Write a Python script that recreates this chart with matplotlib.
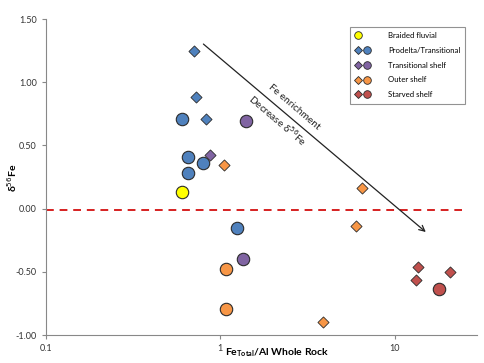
import matplotlib

matplotlib.use("Agg")
import matplotlib.pyplot as plt
from matplotlib.lines import Line2D
from matplotlib.legend_handler import HandlerTuple

plt.rcParams["font.family"] = ["Lato", "DejaVu Sans"]

# values (x: Fe_total/Al, y: d56Fe)
braided_circ_x = [0.605]
braided_circ_y = [0.13]

prodelta_diam_x = [0.71, 0.724, 0.83]
prodelta_diam_y = [1.247, 0.88, 0.71]
prodelta_circ_x = [0.607, 0.655, 0.80, 0.657, 1.25]
prodelta_circ_y = [0.709, 0.41, 0.36, 0.284, -0.151]

trans_diam_x = [0.873]
trans_diam_y = [0.424]
trans_circ_x = [1.405, 1.356]
trans_circ_y = [0.693, -0.40]

outer_diam_x = [1.05, 6.46, 6.02, 3.9]
outer_diam_y = [0.342, 0.163, -0.135, -0.895]
outer_circ_x = [1.08, 1.08]
outer_circ_y = [-0.48, -0.797]

starved_diam_x = [13.7, 13.2, 20.8]
starved_diam_y = [-0.465, -0.567, -0.504]
starved_circ_x = [18.0]
starved_circ_y = [-0.638]

arrow_start = (0.80, 1.302)
arrow_end = (15.1, -0.185)

y_ticks = [-1.0, -0.5, 0.0, 0.5, 1.0, 1.5]
x_ticks = [0.1, 1, 10]
x_tick_labels = ["0.1", "1", "10"]

YELLOW = "#FFFF00"
BLUE = "#4F81BD"
PURPLE = "#8064A2"
ORANGE = "#F79646"
RED = "#C0504D"
EDGE = "#2B2B2B"

fig = plt.figure(figsize=(4.84, 3.63), dpi=100)
ax = fig.add_axes([0.095, 0.0771, 0.890, 0.8705])
ax.set_xscale("log")
ax.set_xlim(0.1, 29.6)
ax.set_ylim(-1.0, 1.5)

ax.plot([0.1, 24.3], [-0.01, -0.01], color="#D62020", linestyle=(0, (4, 3)), linewidth=1.4, zorder=1)

circ = dict(marker="o", s=80, edgecolors=EDGE, linewidths=0.8, zorder=3)
diam = dict(marker="D", s=32, edgecolors=EDGE, linewidths=0.6, zorder=3)

ax.scatter(braided_circ_x, braided_circ_y, c=YELLOW, **circ)
ax.scatter(prodelta_diam_x, prodelta_diam_y, c=BLUE, **diam)
ax.scatter(prodelta_circ_x, prodelta_circ_y, c=BLUE, **circ)
ax.scatter(trans_diam_x, trans_diam_y, c=PURPLE, **diam)
ax.scatter(trans_circ_x, trans_circ_y, c=PURPLE, **circ)
ax.scatter(outer_diam_x, outer_diam_y, c=ORANGE, **diam)
ax.scatter(outer_circ_x, outer_circ_y, c=ORANGE, **circ)
ax.scatter(starved_diam_x, starved_diam_y, c=RED, **diam)
ax.scatter(starved_circ_x, starved_circ_y, c=RED, **circ)

ax.annotate("", xy=arrow_end, xytext=arrow_start,
            arrowprops=dict(arrowstyle="->", color="#222222", lw=0.9, shrinkA=0, shrinkB=0))
ax.text(2.66, 0.80, "Fe enrichment", rotation=-40.5, ha="center", va="center", fontsize=7.3, color="#222222")
ax.text(2.13, 0.70, "Decrease δ$^{56}$Fe", rotation=-40.5, ha="center", va="center", fontsize=7.3, color="#222222")

for side in ["top", "right"]:
    ax.spines[side].set_visible(False)
for side in ["left", "bottom"]:
    ax.spines[side].set_color("#888888")
    ax.spines[side].set_linewidth(0.8)

ax.set_yticks(y_ticks)
ax.set_yticklabels([f"{v:.2f}" for v in y_ticks])
ax.set_xticks(x_ticks)
ax.set_xticklabels(x_tick_labels)
ax.xaxis.set_minor_locator(matplotlib.ticker.NullLocator())
ax.tick_params(axis="both", labelsize=6.5, colors="#888888", labelcolor="#333333", length=3, width=0.8)

fig.text(0.025, 0.51, "δ$^{56}$Fe", rotation=90, ha="center", va="center", fontsize=7.5, fontweight="bold")
fig.text(0.572, 0.028, "Fe$_{\\mathregular{Total}}$/Al Whole Rock", ha="center", va="center",
         fontsize=7.5, fontweight="bold")


def mk(marker, color, size):
    return Line2D([], [], marker=marker, linestyle="none", markerfacecolor=color,
                  markeredgecolor=EDGE, markeredgewidth=0.6, markersize=size)


blank = Line2D([], [], linestyle="none")
handles = [
    (mk("o", YELLOW, 5.5), blank),
    (mk("D", BLUE, 4), mk("o", BLUE, 5.5)),
    (mk("D", PURPLE, 4), mk("o", PURPLE, 5.5)),
    (mk("D", ORANGE, 4), mk("o", ORANGE, 5.5)),
    (mk("D", RED, 4), mk("o", RED, 5.5)),
]
labels = ["Braided fluvial", "Prodelta/Transitional", "Transitional shelf", "Outer shelf", "Starved shelf"]
leg = ax.legend(handles, labels, handler_map={tuple: HandlerTuple(ndivide=None, pad=0.3)},
                loc="upper left", bbox_to_anchor=(0.705, 0.976), fontsize=5.6, frameon=True,
                fancybox=False, edgecolor="#777777", handlelength=2.0, handletextpad=2.2,
                labelspacing=1.0, borderpad=0.7, borderaxespad=0.0, markerfirst=True)
leg.get_frame().set_linewidth(0.8)

fig.savefig("out.png", dpi=100)
